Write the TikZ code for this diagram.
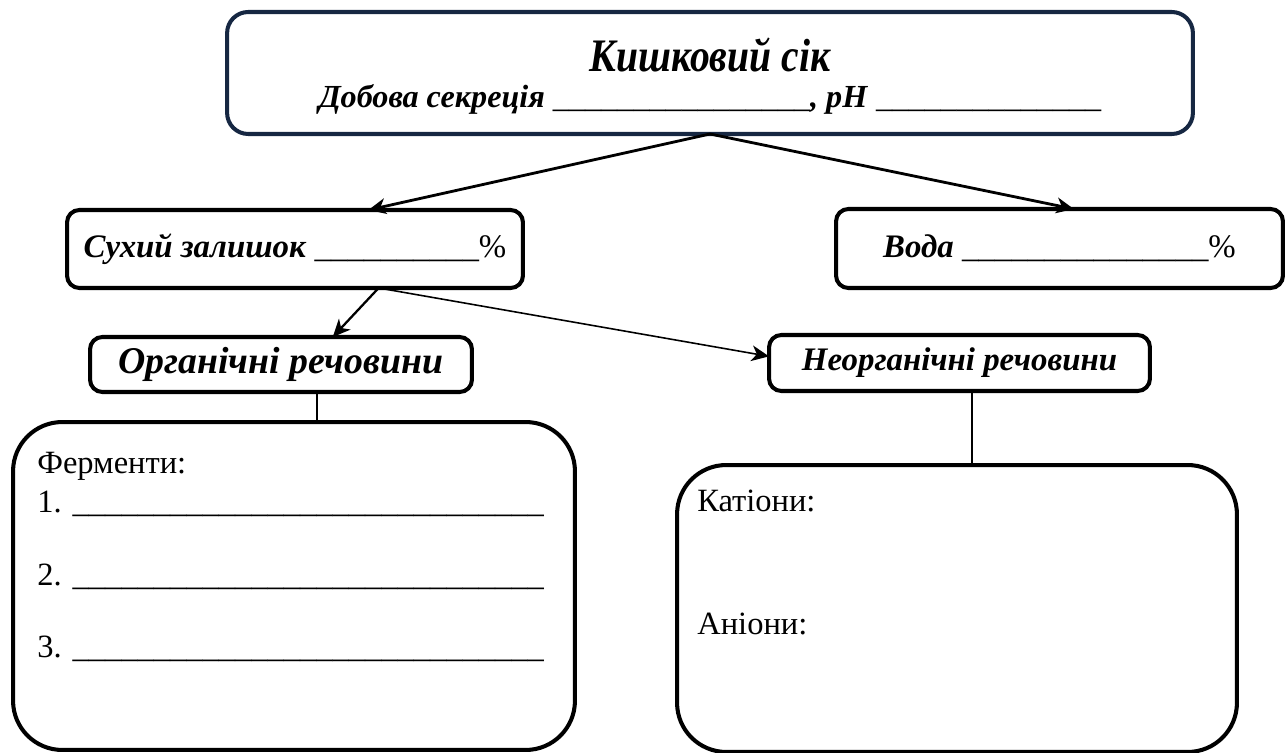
\documentclass[tikz,border=0pt]{standalone}
\usepackage{fontspec}
\setmainfont{Liberation Serif}
\newfontfamily\narrowserif[FakeStretch=0.85]{Liberation Serif}
\usetikzlibrary{arrows.meta,positioning}
\definecolor{navy}{RGB}{22,39,66}
\tikzset{
  box/.style={draw, rounded corners=7pt, line width=2.3pt, inner sep=0pt, outer sep=0pt,
    font=\fontsize{18.7}{22}\selectfont\bfseries\itshape},
  bigbox/.style={draw, rounded corners=28pt, line width=2.3pt, inner sep=0pt, outer sep=0pt},
  label/.style={anchor=base west, inner sep=0pt, font=\fontsize{18.5}{22}\selectfont},
  arrow/.style={-{Stealth[length=10pt,width=9pt,inset=3pt]}}
}
% a row of underscores to write in
\newcommand\blank[1]{\foreach \k in {1,...,#1}{\_}}

\begin{document}
\begin{tikzpicture}[x=0.02cm, y=-0.02cm]
\useasboundingbox (0,0) rectangle (1285,753);

% boxes
\node[box, draw=navy, rounded corners=12pt, minimum width=19.32cm, minimum height=2.44cm,
  align=center, font=\fontsize{18.3}{22}\selectfont\bfseries\itshape] (juice) at (710,73)
  {\rule{0pt}{23pt}{\fontsize{26.5}{30}\selectfont\narrowserif\bfseries\itshape Кишковий сік}\\[-1.6pt]
   Добова секреція \textup{\mdseries\blank{16}}, pH \textup{\mdseries\blank{14}}};
\node[box, minimum width=9.12cm, minimum height=1.56cm] (dry) at (295,249)
  {Сухий залишок \textup{\mdseries\blank{10}\%}};
\node[box, minimum width=8.94cm, minimum height=1.58cm] (water) at (1059.5,248.5)
  {Вода \textup{\mdseries\blank{15}\%}};
\node[box, minimum width=7.64cm, minimum height=1.1cm, font=\fontsize{21.5}{24}\selectfont\bfseries\itshape]
  (organic) at (281,364.5) {Органічні речовини};
\node[box, minimum width=7.62cm, minimum height=1.12cm] (inorganic) at (959.5,363) {Неорганічні речовини};
\node[bigbox, minimum width=11.24cm, minimum height=6.56cm] (enzymes) at (294,586) {};
\node[bigbox, minimum width=11.2cm, minimum height=5.74cm] (ions) at (957,608.5) {};

% text inside the big boxes
\node[label] (enzlabel) at (37,473) {Ферменти:};
\node[label] (enz1) at (37,512) {1. \blank{29}};
\node[label] (enz2) at (37,585) {2. \blank{29}};
\node[label] (enz3) at (37,657) {3. \blank{29}};
\node[label] (cations) at (697,511) {Катіони:};
\node[label] (anions) at (697,634) {Аніони:};

% arrows
\draw[arrow, line width=1.6pt] (juice.south) -- (dry.28);
\draw[arrow, line width=1.6pt] (juice.south) -- (water.70);
\draw[arrow, line width=1.3pt] (dry.-25) -- (organic.28);
\draw[arrow, line width=0.9pt] (dry.-25) -- (inorganic.178);
\coordinate (orgtap) at (317,0);
\coordinate (inorgtap) at (972,0);
\draw[line width=0.8pt] (organic.south -| orgtap) -- (enzymes.north -| orgtap);
\draw[line width=0.8pt] (inorganic.south -| inorgtap) -- (ions.north -| inorgtap);
\end{tikzpicture}
\end{document}
